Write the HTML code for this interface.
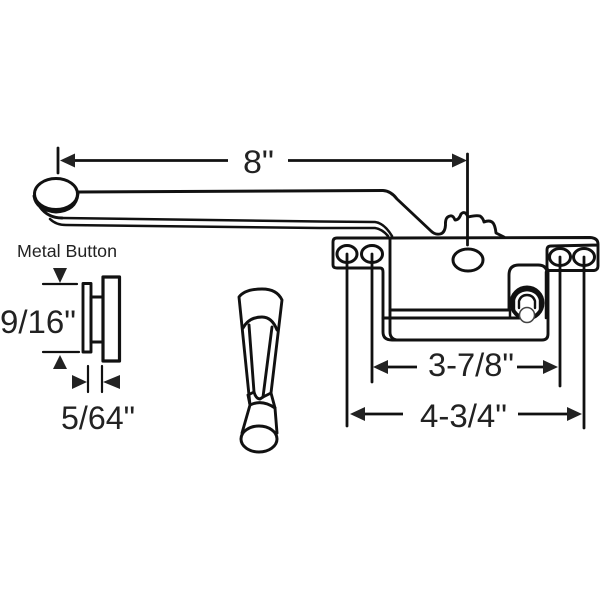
<!DOCTYPE html>
<html><head><meta charset="utf-8"><style>
html,body{margin:0;padding:0;background:#fff}
svg{display:block}
text{font-family:"Liberation Sans",sans-serif;fill:#222}
</style></head><body>
<svg width="600" height="600" viewBox="0 0 600 600" xmlns="http://www.w3.org/2000/svg">
<rect width="600" height="600" fill="#fff"/>
<g fill="none" stroke="#111" stroke-width="2.900" stroke-linecap="round" stroke-linejoin="round">
<!-- crank arm -->
<path d="M78 192 L383 190.500 Q391 191 397 199 L431 231 Q435 235 440 234 Q445 233 445.500 225 Q445 217 450 216 Q453 215 455 220 Q459 220 461 214 Q465 210 468 217 Q476 215 480 216 Q483 218 484 222 Q489 220 492 222 Q495 224 496 233 Q500 235 504 237"/>
<path d="M62 218 L320 221.500 L375 222 Q384 223 392 236" stroke-width="2.500"/>
<path d="M50 219 Q56 225 66 225 L320 228 L375 228 Q382 229 388 236" stroke-width="2.500"/>
<ellipse cx="56" cy="194" rx="21.500" ry="15.500" fill="#fff" stroke-width="3"/>
<path d="M34 196 Q36 210 56 212 Q76 211 78 194"/>
<path d="M40 207 Q48 218 62 218"/>
<!-- plate -->
<path d="M390 238 L590 237.500 Q598 238 598 244 L598 266 Q598 270 594 270.500 L549 270.500 Q547 270 547 267 L547 250 Q547 246 551 246 L598 245"/>
<path d="M390 238 L337 238 Q333 238 333 242 L333 265 Q333 268 337 268 L380 268 Q383 268 383 272 L383 332 Q383 340 392 340 L542 340 Q548 340 548 334 L548 271"/>
<path d="M390 238 L390 332 Q390 339 397 340"/>
<path d="M390 310 L509 310"/>
<path d="M383 318 L520 318"/>
<path d="M509 310 L509 275 Q509 265 519 265 L538 265 Q546 265 547 272"/>
<ellipse cx="347" cy="254" rx="10" ry="8.500" stroke-width="3"/>
<ellipse cx="372" cy="254" rx="10.500" ry="8.500" stroke-width="3"/>
<ellipse cx="468" cy="260" rx="15" ry="11" stroke-width="3"/>
<ellipse cx="560" cy="257" rx="10.500" ry="8.500" stroke-width="3"/>
<ellipse cx="584" cy="257" rx="10.500" ry="8.500" stroke-width="3"/>
<!-- knob -->
<circle cx="527" cy="303" r="15.500" stroke-width="4"/>
<path d="M514 312 L514 300 Q516 291 527 290 Q538 291 540 300 L540 312" stroke-width="2.400"/>
<path d="M519 308 L519 301 Q521 295 527 295 Q533 295 535 301 L535 308" stroke-width="2.400"/>
<circle cx="527" cy="315" r="7.500" fill="#fff" stroke="#444" stroke-width="1.500"/>
<path d="M510 318 L510 310 M546 318 L546 272" stroke-width="2.500"/>
<!-- leader lines -->
<path d="M347 254 L347 426 M372 254 L372 382 M560 257 L560 386 M584 257 L584 428" stroke-width="2.800"/>
<path d="M467.500 154 L467.500 245" stroke-width="2.800"/>
<!-- dimension 8 -->
<path d="M58 148 L58 173" stroke-width="2.800"/>
<path d="M75 160.500 L228 160.500 M288 160.500 L455 160.500" stroke-width="2.800" stroke-linecap="butt"/>
<!-- 3-7/8 -->
<path d="M388 367 L417 367 M517 367 L543 367" stroke-width="2.800" stroke-linecap="butt"/>
<!-- 4-3/4 -->
<path d="M365 414 L403 414 M518 414 L567 414" stroke-width="2.800" stroke-linecap="butt"/>
<!-- button side view -->
<rect x="83" y="283.500" width="8" height="68.500" stroke-width="2.900"/>
<rect x="91" y="297" width="12" height="45" stroke-width="2.900"/>
<rect x="103" y="277" width="16.500" height="84" stroke-width="3.200"/>
<path d="M43 284 L77 284 M43 352 L79 352" stroke-width="2.200"/>
<path d="M88 366 L88 392 M102 366 L102 392" stroke-width="2.200"/>
<!-- handle -->
<path d="M250 405 L239 297 Q245 289 262 289 Q277 289 282 300 L271 393 L275 408"/>
<path d="M243 328 Q249 317 262 317 Q272 317 277 330"/>
<path d="M249 325 L254 392 Q256 399 260 399 L263 397 L272 327"/>
<path d="M248 395 L250 405 Q262 399 275 408 M248 395 L254 392 M271 393 L263 397"/>
<path d="M250 405 L242 433 M275 408 L277 433"/>
<ellipse cx="259" cy="439" rx="18" ry="13" stroke-width="3"/>
</g>
<g fill="#222" stroke="none">
<polygon points="60,160.500 75,153.500 75,167.500"/>
<polygon points="467,160.500 452,153.500 452,167.500"/>
<polygon points="373,367 388,360 388,374"/>
<polygon points="558,367 543,360 543,374"/>
<polygon points="350,414 365,407 365,421"/>
<polygon points="582,414 567,407 567,421"/>
<polygon points="53,268 67,268 60,283"/>
<polygon points="53,369 67,369 60,355"/>
<polygon points="72,375 72,389 87,382"/>
<polygon points="120,375 120,389 103,382"/>
</g>
<text x="243" y="173" font-size="32" textLength="31" lengthAdjust="spacingAndGlyphs">8"</text>
<text x="428" y="376" font-size="32" textLength="86" lengthAdjust="spacingAndGlyphs">3-7/8"</text>
<text x="420" y="427" font-size="32" textLength="87" lengthAdjust="spacingAndGlyphs">4-3/4"</text>
<text x="0" y="333" font-size="32" textLength="76" lengthAdjust="spacingAndGlyphs">9/16"</text>
<text x="61" y="429" font-size="32" textLength="74" lengthAdjust="spacingAndGlyphs">5/64"</text>
<text x="17" y="257" font-size="17.500" textLength="100" lengthAdjust="spacingAndGlyphs">Metal Button</text>
</svg>
</body></html>
